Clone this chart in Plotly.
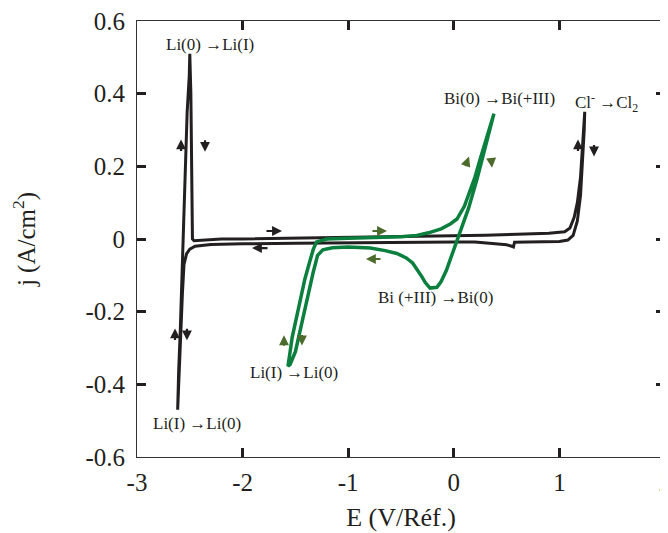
import plotly.graph_objects as go

# ---------------- data ----------------
# Black CV (LiCl-KCl blank)
black_E = [0.0, -0.5, -1.0, -1.5, -2.0, -2.3, -2.45, -2.5, -2.53, -2.555, -2.57, -2.585, -2.6, -2.615,
           -2.605, -2.59, -2.575, -2.565, -2.56, -2.545, -2.525, -2.505, -2.5, -2.49, -2.485, -2.48,
           -2.475, -2.46, -2.4, -2.2, -2.0, -1.5, -1.0, -0.5, 0.0, 0.3, 0.6, 0.9, 1.05, 1.1, 1.14,
           1.17, 1.2, 1.22, 1.235, 1.24, 1.235, 1.22, 1.2, 1.17, 1.13, 1.08, 1.0, 0.7, 0.575, 0.565,
           0.55, 0.5, 0.2, 0.0]
black_j = [-0.008, -0.01, -0.01, -0.012, -0.013, -0.015, -0.02, -0.028, -0.04, -0.07, -0.15, -0.25,
           -0.36, -0.47, -0.36, -0.25, -0.12, -0.02, 0.05, 0.2, 0.35, 0.45, 0.51, 0.4, 0.2, 0.05,
           0.0, -0.005, -0.004, 0.0, 0.0, 0.002, 0.004, 0.006, 0.008, 0.01, 0.013, 0.016, 0.02, 0.03,
           0.06, 0.1, 0.17, 0.25, 0.31, 0.35, 0.3, 0.21, 0.12, 0.05, 0.01, -0.003, -0.007, -0.008,
           -0.009, -0.022, -0.02, -0.016, -0.008, -0.008]

# Green CV (with Bi(III))
green_E = [0.38, 0.3, 0.22, 0.14, 0.08, 0.03, -0.02, -0.07, -0.12, -0.16, -0.225, -0.27, -0.3,
           -0.35, -0.39, -0.45, -0.54, -0.65, -0.79, -1.0, -1.15, -1.24, -1.29, -1.33, -1.39,
           -1.45, -1.5, -1.55, -1.57,
           -1.53, -1.46, -1.41, -1.36, -1.33, -1.3, -1.2, -1.0, -0.8, -0.5, -0.35, -0.24, -0.12,
           -0.03, 0.03, 0.1, 0.15, 0.2, 0.25, 0.31, 0.38]
green_j = [0.345, 0.25, 0.165, 0.085, 0.035, -0.008, -0.05, -0.086, -0.117, -0.133, -0.135, -0.12,
           -0.105, -0.085, -0.066, -0.052, -0.04, -0.032, -0.025, -0.022, -0.024, -0.03, -0.045,
           -0.09, -0.17, -0.25, -0.31, -0.345, -0.35,
           -0.27, -0.17, -0.11, -0.058, -0.028, -0.008, 0.0, 0.002, 0.003, 0.006, 0.01, 0.017,
           0.028, 0.042, 0.055, 0.09, 0.13, 0.17, 0.22, 0.28, 0.345]

x_ticks = [-3, -2, -1, 0, 1, 2]
x_tick_labels = ["-3", "-2", "-1", "0", "1", "2"]
y_ticks = [-0.6, -0.4, -0.2, 0, 0.2, 0.4, 0.6]
y_tick_labels = ["-0.6", "-0.4", "-0.2", "0", "0.2", "0.4", "0.6"]

BLACK = "#231f20"
GREEN = "#0b7f3e"
OLIVE = "#4c6a2b"
FONT = "Liberation Serif"

fig = go.Figure()
fig.add_trace(go.Scatter(x=black_E, y=black_j, mode="lines",
                         line=dict(color=BLACK, width=3), showlegend=False))
fig.add_trace(go.Scatter(x=green_E, y=green_j, mode="lines",
                         line=dict(color=GREEN, width=3.5), showlegend=False))

# text labels
labels = [
    ("Li(0) →Li(I)", -2.31, 0.536),
    ("Li(I) →Li(0)", -2.43, -0.509),
    ("Li(I) →Li(0)", -1.51, -0.368),
    ("Bi (+III) →Bi(0)", -0.178, -0.16),
    ("Bi(0) →Bi(+III)", 0.437, 0.387),
    ("Cl<sup>-</sup> →Cl<sub>2</sub>", 1.45, 0.376),
]
for t, x, y in labels:
    fig.add_annotation(x=x, y=y, text=t, showarrow=False,
                       font=dict(family=FONT, size=17, color=BLACK))

# small scan-direction arrows: (tip x, tip y, ax, ay, color)
arrows = [
    (-1.627, 0.022, -17, 0, BLACK),
    (-1.911, -0.025, 17, 0, BLACK),
    (-2.583, 0.274, 0, 13, BLACK),
    (-2.356, 0.24, 0, -13, BLACK),
    (-2.64, -0.246, 0, 13, BLACK),
    (-2.527, -0.279, 0, -13, BLACK),
    (1.176, 0.274, 0, 13, BLACK),
    (1.328, 0.227, 0, -13, BLACK),
    (-0.633, 0.022, -16, 0, OLIVE),
    (-0.832, -0.055, 16, 0, OLIVE),
    (0.144, 0.227, -4, 11, OLIVE),
    (0.362, 0.196, -1, -11, OLIVE),
    (-1.608, -0.265, 0, 12, OLIVE),
    (-1.438, -0.293, 0, -12, OLIVE),
]
for x, y, ax, ay, c in arrows:
    fig.add_annotation(x=x, y=y, ax=ax, ay=ay, axref="pixel", ayref="pixel",
                       text="", showarrow=True, arrowhead=2, arrowsize=0.9,
                       arrowwidth=2.2, arrowcolor=c)

axis_common = dict(
    showline=True, linecolor="#333333", linewidth=1, mirror="allticks",
    ticks="inside", ticklen=9, tickwidth=2.5, tickcolor=BLACK,
    showgrid=False, zeroline=False, automargin=False,
    ticklabeloverflow="allow",
    tickfont=dict(family=FONT, size=25, color=BLACK),
)

# the page body has an 8px margin, so the figure is sized/offset to compensate
fig.update_layout(
    width=660, height=525,
    margin=dict(l=129, r=3, t=13, b=76),
    paper_bgcolor="white", plot_bgcolor="white",
    xaxis=dict(range=[-3, 2], tickvals=x_ticks, ticktext=x_tick_labels,
               ticklabelstandoff=3,
               title=dict(text="E (V/Réf.)", font=dict(family=FONT, size=26, color=BLACK), standoff=12),
               **axis_common),
    yaxis=dict(range=[-0.6, 0.6], tickvals=y_ticks, ticktext=y_tick_labels,
               ticklabelstandoff=6,
               title=dict(text="j (A/cm<sup>2</sup>)", font=dict(family=FONT, size=25, color=BLACK), standoff=48),
               **axis_common),
)

fig.write_html("out.html")
